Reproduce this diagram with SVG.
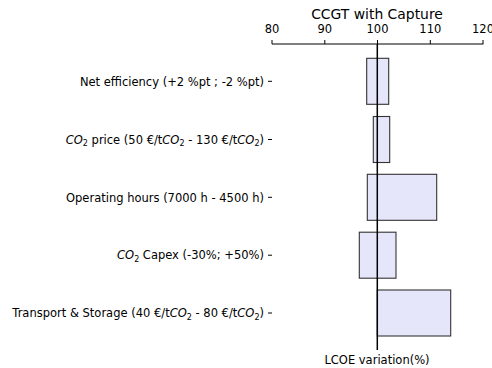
<svg xmlns="http://www.w3.org/2000/svg" width="492" height="368" viewBox="0 0 492 368">
  <style>
    text { font-family: "DejaVu Sans", "Liberation Sans", sans-serif; fill: #000; }
    .title { font-size: 13.9px; }
    .tick { font-size: 11.5px; }
    .lab { font-size: 11.5px; }
    .m { font-style: italic; }
    .sub { font-size: 8px; }
    .bar { fill: #e6e6fa; stroke: #333; stroke-width: 1.1; }
    .axis { stroke: #000; stroke-width: 1; fill: none; }
  </style>
  <rect width="492" height="368" fill="#fff"/>

  <!-- title and top axis -->
  <text class="title" x="377" y="18.5" text-anchor="middle">CCGT with Capture</text>
  <g id="x-axis">
    <line class="axis" x1="272" y1="44" x2="483.3" y2="44"/>
    <path class="axis" d="M272,44V40 M324.8,44V40 M377.5,44V40 M430.3,44V40 M483,44V40"/>
    <text class="tick" x="272" y="33.3" text-anchor="middle">80</text>
    <text class="tick" x="324.8" y="33.3" text-anchor="middle">90</text>
    <text class="tick" x="377.5" y="33.3" text-anchor="middle">100</text>
    <text class="tick" x="430.3" y="33.3" text-anchor="middle">110</text>
    <text class="tick" x="483" y="33.3" text-anchor="middle">120</text>
  </g>

  <!-- category ticks on the left -->
  <g id="y-ticks">
    <path class="axis" d="M268,81.3H272 M268,139.5H272 M268,197.3H272 M268,255.2H272 M268,313H272"/>
  </g>

  <g id="net-efficiency">
    <rect class="bar" x="366.7" y="58.3" width="22" height="46"/>
    <text class="lab" x="264" y="85.5" text-anchor="end">Net efficiency (+2 %pt ; -2 %pt)</text>
  </g>

  <g id="co2-price">
    <rect class="bar" x="373.3" y="116.5" width="16.4" height="46"/>
    <text class="lab" x="264" y="143.7" text-anchor="end"><tspan class="m">CO</tspan><tspan class="sub" dy="2.4">2</tspan><tspan dy="-2.4"> price (50 €/t</tspan><tspan class="m">CO</tspan><tspan class="sub" dy="2.4">2</tspan><tspan dy="-2.4"> - 130 €/t</tspan><tspan class="m">CO</tspan><tspan class="sub" dy="2.4">2</tspan><tspan dy="-2.4">)</tspan></text>
  </g>

  <g id="operating-hours">
    <rect class="bar" x="367.3" y="174.3" width="69.4" height="46"/>
    <text class="lab" x="264" y="201.5" text-anchor="end">Operating hours (7000 h - 4500 h)</text>
  </g>

  <g id="co2-capex">
    <rect class="bar" x="359.3" y="232.2" width="36.7" height="46"/>
    <text class="lab" x="264" y="259.4" text-anchor="end"><tspan class="m">CO</tspan><tspan class="sub" dy="2.4">2</tspan><tspan dy="-2.4"> Capex (-30%; +50%)</tspan></text>
  </g>

  <g id="transport-storage">
    <rect class="bar" x="377.3" y="290" width="73.4" height="46"/>
    <text class="lab" x="264" y="317.2" text-anchor="end">Transport &amp; Storage (40 €/t<tspan class="m">CO</tspan><tspan class="sub" dy="2.4">2</tspan><tspan dy="-2.4"> - 80 €/t</tspan><tspan class="m">CO</tspan><tspan class="sub" dy="2.4">2</tspan><tspan dy="-2.4">)</tspan></text>
  </g>

  <!-- reference line at 100 -->
  <g id="connectors">
    <line x1="377.3" y1="44" x2="377.3" y2="350" stroke="#000" stroke-width="1.5"/>
  </g>

  <text class="lab" x="377" y="364" text-anchor="middle">LCOE variation(%)</text>
</svg>
